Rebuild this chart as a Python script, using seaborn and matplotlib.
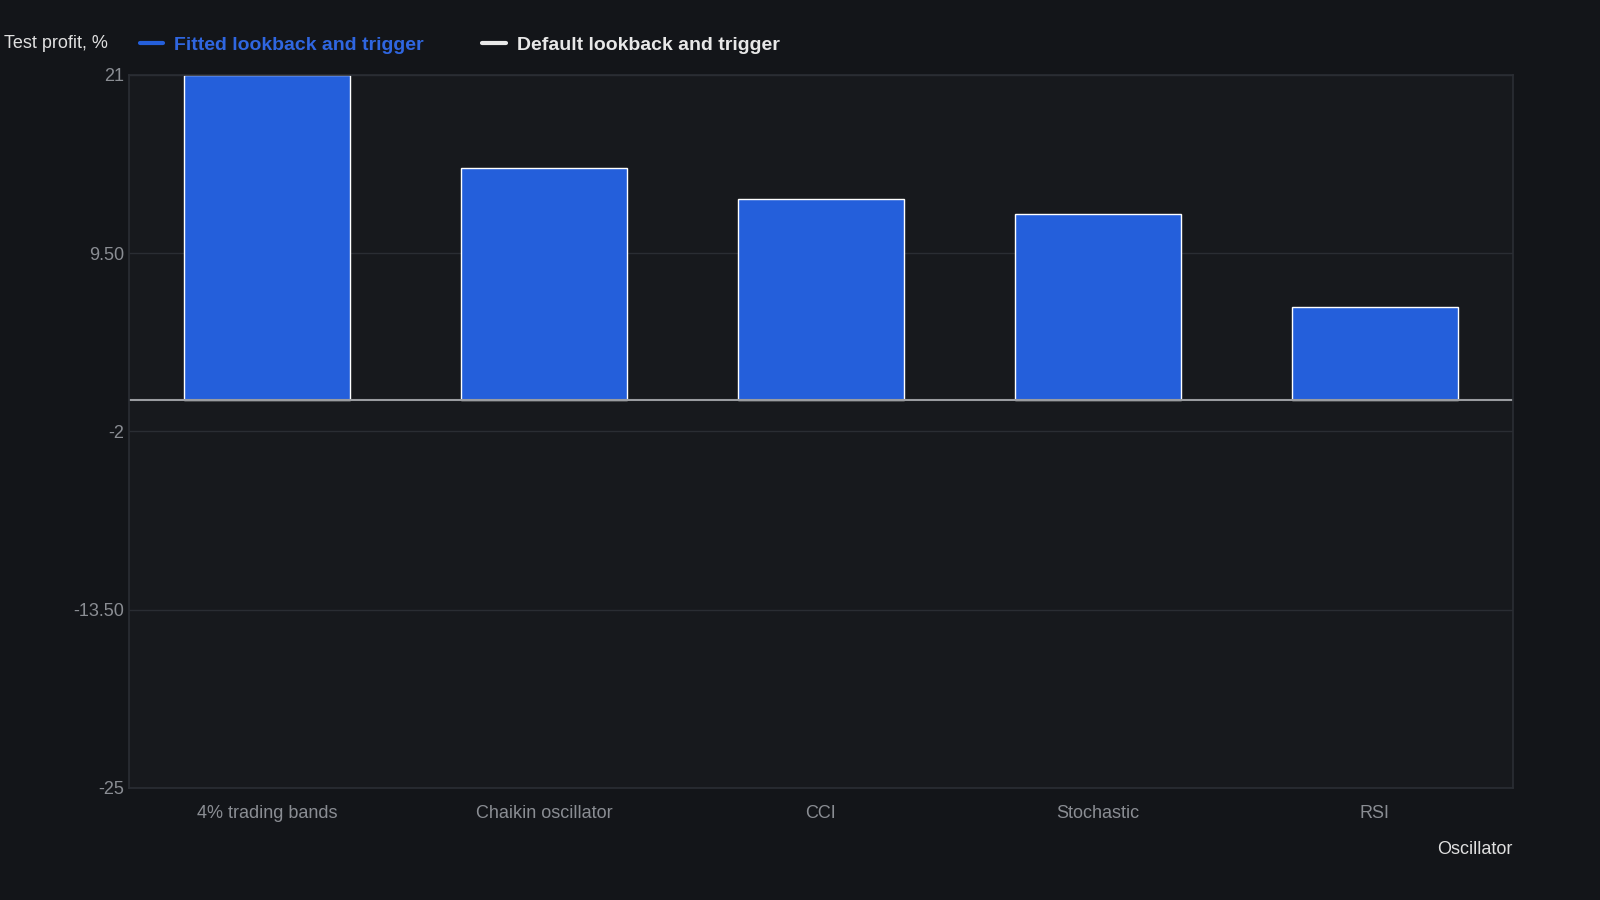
import matplotlib
matplotlib.use("Agg")
import matplotlib.pyplot as plt
import seaborn as sns
import pandas as pd
from matplotlib.lines import Line2D

categories = ["4% trading bands", "Chaikin oscillator", "CCI", "Stochastic", "RSI"]
fitted = [21, 15, 13, 12, 6]
yticks = [21, 9.5, -2, -13.5, -25]
ytick_labels = ["21", "9.50", "-2", "-13.50", "-25"]

sns.set_theme(style="dark")
plt.rcParams['font.family'] = ['Liberation Sans', 'DejaVu Sans']
bg = "#131519"
fig = plt.figure(figsize=(16, 9), dpi=100, facecolor=bg)
ax = fig.add_axes([129/1600, 1-788/900, (1513-129)/1600, (788-75)/900])
ax.set_facecolor("#17191d")
df = pd.DataFrame({"cat": categories, "val": fitted})
sns.barplot(data=df, x="cat", y="val", color="#245FDB", width=0.6, saturation=1, ax=ax)
ax.set_ylim(-25, 21)
ax.set_yticks(yticks)
ax.set_yticklabels(ytick_labels)
ax.grid(axis="y", color="#2a2d33", linewidth=1)
ax.set_axisbelow(True)
ax.axhline(0, color="#9a9ca0", linewidth=1.5)
for s in ax.spines.values():
    s.set_color("#2a2d33")
ax.tick_params(colors="#8a8d93", labelsize=13, length=0)
ax.tick_params(axis="x", pad=12)
ax.set_xlabel("")
ax.set_ylabel("")
fig.text(1513/1600, 1-850/900, "Oscillator", color="#e0e0e0", fontsize=13, ha="right", va="center")
fig.text(4/1600, 1-44/900, "Test profit, %", color="#e0e0e0", fontsize=13, ha="left", va="center")
handles = [Line2D([], [], color="#245FDB", lw=3), Line2D([], [], color="#e8e8e8", lw=3)]
leg = fig.legend(handles, ["Fitted lookback and trigger", "Default lookback and trigger"],
                 loc="center left", bbox_to_anchor=(122/1600, 1-45/900), ncol=2, frameon=False,
                 fontsize=14, handlelength=1.2, columnspacing=3, handletextpad=0.6,
                 prop={"weight": "bold", "size": 14})
leg.get_texts()[0].set_color("#2f66e0")
leg.get_texts()[1].set_color("#e8e8e8")
fig.savefig("out.png", dpi=100, facecolor=bg)
